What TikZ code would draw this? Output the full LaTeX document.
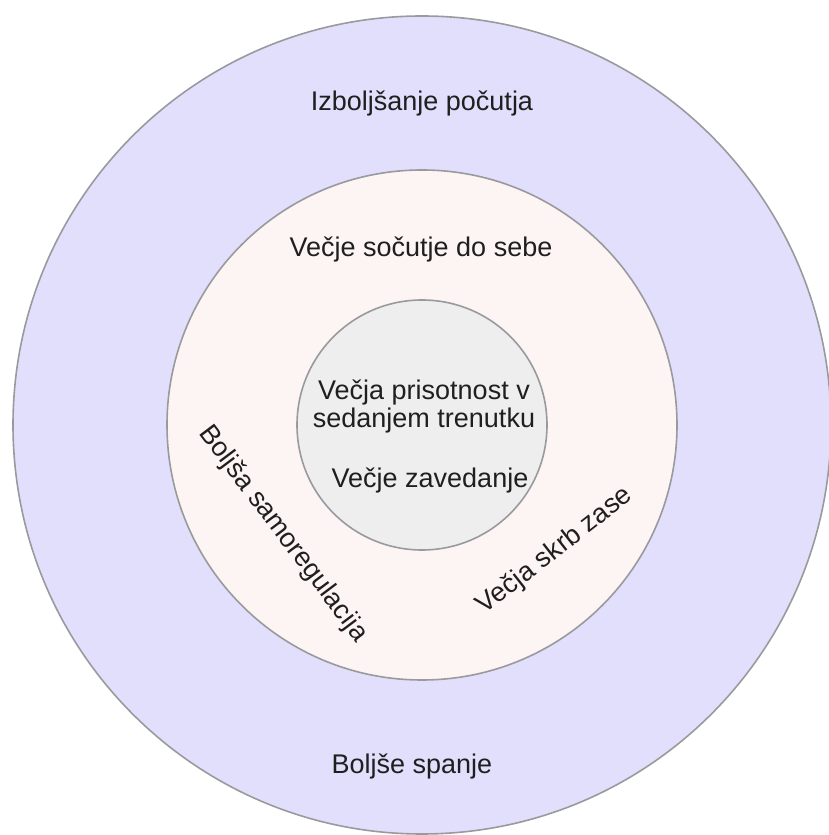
\documentclass[tikz,border=0pt]{standalone}
\usepackage{fontspec}
\setmainfont{Liberation Sans}
\usepackage{tikz}
\usetikzlibrary{calc}

\definecolor{outerfill}{HTML}{E1DFFC}
\definecolor{midfill}{HTML}{FDF5F3}
\definecolor{innerfill}{HTML}{EEEEEE}
\definecolor{ringline}{HTML}{9A9A9E}

\tikzset{
  lbl/.style={font=\fontsize{27}{28}\selectfont, text=black!88, inner sep=0pt, align=center},
  ring/.style={draw=ringline, line width=1.6pt}
}

\begin{document}
\begin{tikzpicture}[x=1pt,y=1pt]
\useasboundingbox (0,0) rectangle (829,835);

\coordinate (c) at (422,410);

% the three rings
\draw [ring, fill=outerfill] (c) circle (409);
\draw [ring, fill=midfill] (c) circle (255);
\draw [ring, fill=innerfill] (c) circle (125);

% outer ring
\node[lbl] (pocutje) at (422,732) {Izboljšanje počutja};
\node[lbl] (spanje) at (412,69) {Boljše spanje};

% middle ring
\node[lbl] (socutje) at (421,586) {Večje sočutje do sebe};
\node[lbl,rotate=-53] (samoreg) at (283,301) {Boljša samoregulacija};
\node[lbl,rotate=38] (skrb) at (555,284) {Večja skrb zase};

% inner ring
\node[lbl] (prisotnost) at (424,429) {Večja prisotnost v\\sedanjem trenutku};
\node[lbl] (zavedanje) at (430,355) {Večje zavedanje};

\end{tikzpicture}
\end{document}
